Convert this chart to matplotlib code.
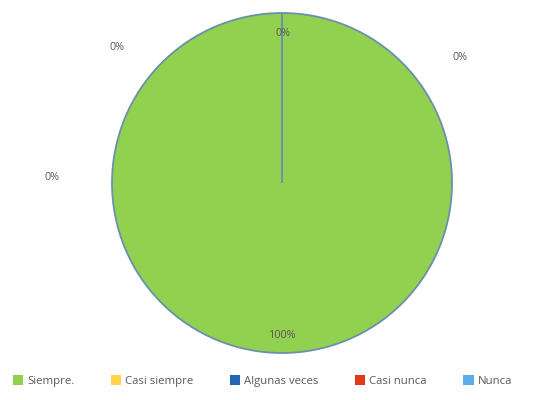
import matplotlib.pyplot as plt
from matplotlib.patches import Patch

categories = ['Siempre.', 'Casi siempre', 'Algunas veces', 'Casi nunca', 'Nunca']
values = [100, 0, 0, 0, 0]
pct_labels = ['100%', '0%', '0%', '0%', '0%']
colors = ['#92D050', '#FFD44A', '#2366B0', '#E2381A', '#5BADE6']

# posiciones de las etiquetas (px, origen abajo a la izquierda)
label_pos = [(283, 65), (283, 367), (460, 343), (52, 222), (117, 353)]

fig = plt.figure(figsize=(5.59, 4.0), dpi=100)
ax = fig.add_axes([0, 0, 1, 1])

ax.pie(values, colors=colors, startangle=90, counterclock=False,
       center=(282, 217), radius=170,
       wedgeprops=dict(edgecolor='#6B8FAE', linewidth=1.3))

ax.set_xlim(0, 559)
ax.set_ylim(0, 400)
ax.set_aspect('equal')
ax.axis('off')

for txt, (x, y) in zip(pct_labels, label_pos):
    ax.text(x, y, txt, ha='center', va='center', fontsize=7.8,
            color='#595959', family='Open Sans')

handles = [Patch(facecolor=c, edgecolor='none') for c in colors]
fig.legend(handles, categories, loc='center left', bbox_to_anchor=(0.005, 0.047),
           ncol=5, frameon=False, handlelength=0.9, handleheight=0.9,
           handletextpad=0.35, columnspacing=3.2,
           prop={'family': 'Open Sans', 'size': 8.2}, labelcolor='#595959')

fig.savefig('out.png', dpi=100)
